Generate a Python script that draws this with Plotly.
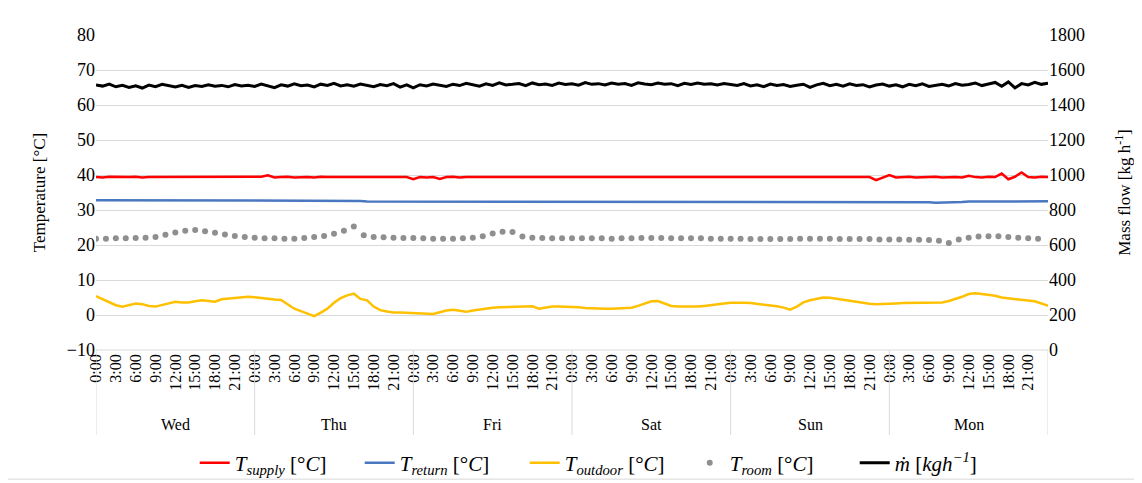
import plotly.graph_objects as go

# ---------------- data ----------------
days = ["Wed", "Thu", "Fri", "Sat", "Sun", "Mon"]
hour_labels = ["0:00", "3:00", "6:00", "9:00", "12:00", "15:00", "18:00", "21:00"]

# hourly samples, hour 0 .. 144
t_supply = [
    39.4, 39.3, 39.5, 39.4, 39.3, 39.4, 39.5, 39.3, 39.4, 39.4, 39.3, 39.5, 39.4, 39.4, 39.3, 39.5, 39.4, 39.3, 39.4, 39.5, 39.4, 39.3, 39.4, 39.4,
    39.4, 39.5, 39.9, 39.3, 39.4, 39.5, 39.3, 39.4, 39.4, 39.3, 39.5, 39.4, 39.4, 39.3, 39.4, 39.5, 39.4, 39.3, 39.4, 39.4, 39.5, 39.3, 39.4, 39.4,
    38.8, 39.4, 39.3, 39.4, 38.9, 39.4, 39.5, 39.3, 39.4, 39.4, 39.3, 39.5, 39.4, 39.4, 39.3, 39.4, 39.5, 39.4, 39.3, 39.4, 39.4, 39.5, 39.3, 39.4,
    39.4, 39.3, 39.5, 39.4, 39.4, 39.3, 39.4, 39.5, 39.4, 39.3, 39.4, 39.4, 39.5, 39.3, 39.4, 39.4, 39.3, 39.5, 39.4, 39.4, 39.3, 39.4, 39.5, 39.4,
    39.3, 39.4, 39.4, 39.5, 39.3, 39.4, 39.4, 39.3, 39.5, 39.4, 39.4, 39.3, 39.4, 39.5, 39.4, 39.3, 39.4, 39.4, 39.5, 39.3, 39.4, 39.4, 38.5, 39.3,
    40.0, 39.3, 39.4, 39.5, 39.3, 39.4, 39.4, 39.5, 39.3, 39.4, 39.4, 39.3, 39.8, 39.4, 39.3, 39.5, 39.4, 40.4, 38.8, 39.5, 40.7, 39.4, 39.3, 39.5, 39.4,
]
t_return = [
    32.8, 32.8, 32.8, 32.8, 32.8, 32.7, 32.8, 32.8, 32.8, 32.8, 32.8, 32.8, 32.8, 32.8, 32.7, 32.8, 32.8, 32.8, 32.8, 32.8, 32.8, 32.8, 32.8, 32.8,
    32.8, 32.8, 32.8, 32.8, 32.8, 32.8, 32.8, 32.7, 32.8, 32.6, 32.6, 32.6, 32.6, 32.6, 32.7, 32.7, 32.6, 32.4, 32.4, 32.4, 32.4, 32.4, 32.4, 32.4,
    32.4, 32.4, 32.4, 32.4, 32.4, 32.4, 32.4, 32.4, 32.4, 32.4, 32.4, 32.4, 32.4, 32.4, 32.4, 32.4, 32.4, 32.3, 32.2, 32.3, 32.4, 32.4, 32.4, 32.4,
    32.4, 32.4, 32.4, 32.4, 32.4, 32.4, 32.4, 32.4, 32.4, 32.4, 32.4, 32.4, 32.4, 32.4, 32.4, 32.4, 32.4, 32.4, 32.4, 32.4, 32.4, 32.4, 32.4, 32.4,
    32.4, 32.4, 32.4, 32.4, 32.4, 32.4, 32.4, 32.4, 32.4, 32.4, 32.4, 32.4, 32.4, 32.4, 32.4, 32.4, 32.4, 32.4, 32.4, 32.4, 32.4, 32.4, 32.4, 32.4,
    32.4, 32.4, 32.4, 32.4, 32.4, 32.3, 32.2, 32.1, 32.1, 32.1, 32.2, 32.3, 32.4, 32.4, 32.5, 32.5, 32.5, 32.5, 32.5, 32.5, 32.5, 32.5, 32.5, 32.5, 32.5,
]
t_outdoor = [
    5.4, 4.6, 3.8, 2.8, 2.4, 2.8, 3.3, 3.1, 2.6, 2.4, 2.8, 3.3, 3.8, 3.6, 3.6, 3.9, 4.2, 4.0, 3.8, 4.5, 4.7, 4.9, 5.1, 5.2,
    5.1, 4.8, 4.5, 4.4, 4.3, 3.0, 1.8, 1.1, 0.3, -0.3, 0.7, 1.8, 3.5, 4.8, 5.6, 6.1, 4.6, 4.2, 2.4, 1.4, 1.0, 0.7, 0.7, 0.6,
    0.5, 0.5, 0.4, 0.3, 0.8, 1.3, 1.5, 1.3, 0.9, 1.3, 1.6, 1.8, 2.1, 2.2, 2.3, 2.3, 2.4, 2.4, 2.5, 1.8, 2.2, 2.4, 2.4, 2.4,
    2.3, 2.2, 2.0, 1.9, 1.7, 1.8, 1.8, 1.9, 2.0, 2.1, 2.6, 3.2, 3.9, 4.0, 3.4, 2.6, 2.4, 2.4, 2.3, 2.4, 2.6, 2.9, 3.1, 3.3,
    3.5, 3.6, 3.5, 3.4, 3.2, 3.0, 2.8, 2.5, 2.1, 1.5, 2.4, 3.6, 4.2, 4.7, 5.0, 4.9, 4.6, 4.4, 3.9, 3.7, 3.4, 3.2, 3.1, 3.1,
    3.2, 3.3, 3.4, 3.4, 3.5, 3.5, 3.5, 3.6, 3.6, 4.0, 4.5, 5.2, 6.0, 6.2, 6.0, 5.8, 5.5, 5.0, 4.8, 4.6, 4.4, 4.1, 3.9, 3.3, 2.6,
]
mass_flow = [
    1515, 1508, 1519, 1504, 1512, 1500, 1510, 1497, 1514, 1505, 1518, 1509, 1503, 1513, 1500, 1511, 1506, 1516, 1507, 1512, 1504, 1517, 1509, 1513,
    1506, 1520, 1511, 1499, 1515, 1508, 1521, 1510, 1514, 1503, 1519, 1512, 1524, 1509, 1516, 1507, 1520, 1513, 1505, 1517, 1510, 1522, 1502, 1515,
    1498, 1516, 1509, 1520, 1512, 1506, 1519, 1511, 1524, 1514, 1508, 1521, 1512, 1527, 1515, 1518, 1523, 1510, 1526, 1516, 1520, 1512, 1525, 1517,
    1521, 1513, 1528, 1518, 1522, 1514, 1526, 1519, 1523, 1512, 1527, 1520, 1516, 1525, 1518, 1522, 1511, 1524, 1517, 1526, 1519, 1521, 1514, 1523,
    1518, 1512, 1522, 1509, 1516, 1505, 1520, 1511, 1517, 1506, 1513, 1519, 1501, 1515, 1524, 1510, 1518, 1507, 1521, 1512, 1516, 1503, 1514, 1520,
    1508, 1515, 1504, 1518, 1510, 1521, 1506, 1514, 1519, 1509, 1523, 1513, 1517, 1526, 1511, 1520, 1529, 1507, 1532, 1498, 1522, 1515, 1530, 1518, 1524,
]
# room temperature every 1.5 h
t_room = [
    21.8, 21.8, 21.9, 21.9, 22.0, 22.1, 22.3, 22.9, 23.6, 24.1, 24.3, 23.9, 23.5, 23.0, 22.6, 22.3,
    22.1, 21.9, 21.9, 21.8, 21.8, 22.0, 22.3, 22.6, 23.2, 24.1, 25.3, 22.8, 22.3, 22.2, 22.1, 22.0,
    22.0, 21.9, 21.8, 21.8, 21.8, 21.9, 22.1, 22.5, 23.3, 23.8, 23.7, 22.4, 22.1, 22.0, 21.9, 21.9,
    21.9, 21.9, 21.9, 21.9, 21.8, 21.9, 21.9, 22.0, 22.0, 22.0, 21.9, 21.9, 21.9, 21.9, 21.8, 21.8,
    21.8, 21.8, 21.7, 21.7, 21.7, 21.7, 21.7, 21.8, 21.8, 21.8, 21.8, 21.7, 21.7, 21.7, 21.7, 21.6,
    21.6, 21.6, 21.5, 21.5, 21.4, 21.2, 20.6, 21.6, 22.1, 22.4, 22.5, 22.5, 22.3, 22.1, 21.9, 21.8,
]

hours = list(range(len(t_supply)))
room_hours = [i * 1.5 for i in range(len(t_room))]
tick_vals = [d * 24 + h * 3 for d in range(len(days)) for h in range(len(hour_labels))]
tick_text = [hour_labels[h] for d in range(len(days)) for h in range(len(hour_labels))]

FONT = "Liberation Serif, Times New Roman, serif"
GRID = "#d9d9d9"

fig = go.Figure()
fig.add_trace(go.Scatter(x=hours, y=t_supply, mode="lines", line=dict(color="#ff0000", width=2.5),
                         name="<i>T<sub>supply</sub></i> [°<i>C</i>]"))
fig.add_trace(go.Scatter(x=hours, y=t_return, mode="lines", line=dict(color="#4a78c0", width=2.5),
                         name="<i>T<sub>return</sub></i> [°<i>C</i>]"))
fig.add_trace(go.Scatter(x=hours, y=t_outdoor, mode="lines", line=dict(color="#ffc000", width=2.5),
                         name="<i>T<sub>outdoor</sub></i> [°<i>C</i>]"))
fig.add_trace(go.Scatter(x=room_hours, y=t_room, mode="markers", marker=dict(color="#8f8f8f", size=6),
                         name="<i>T<sub>room</sub></i> [°<i>C</i>]"))
fig.add_trace(go.Scatter(x=hours, y=mass_flow, mode="lines", line=dict(color="#000000", width=3),
                         name="<i>ṁ</i> [<i>kgh<sup>−1</sup></i>]", yaxis="y2"))

shapes = []
# category box top line
shapes.append(dict(type="line", xref="paper", yref="paper", x0=0, x1=1, y0=0, y1=0,
                   line=dict(color=GRID, width=1)))
for d in range(len(days) + 1):
    shapes.append(dict(type="line", xref="x", yref="paper", x0=d * 24, x1=d * 24, y0=0, y1=-0.27,
                       line=dict(color=GRID, width=1)))
# outer chart border
shapes.append(dict(type="rect", xref="paper", yref="paper", x0=-0.0935, x1=1.0914, y0=-0.41, y1=1.105,
                   line=dict(color=GRID, width=1), fillcolor="rgba(0,0,0,0)"))

annotations = [dict(x=d * 24 + 12, y=-0.235, xref="x", yref="paper", text=day, showarrow=False,
                    font=dict(family=FONT, size=16, color="#000"), yanchor="middle")
               for d, day in enumerate(days)]

# page body adds an 8px offset; compensate in figure size / margins
fig.update_layout(
    width=1134, height=475,
    margin=dict(l=88, r=94, t=27, b=133, autoexpand=False),
    paper_bgcolor="white", plot_bgcolor="white",
    font=dict(family=FONT, color="#000", size=16),
    showlegend=True,
    legend=dict(orientation="h", x=0.537, xanchor="center", xref="paper",
                y=0.042, yanchor="middle", yref="container",
                font=dict(family=FONT, size=21, color="#000"), itemwidth=30,
                entrywidth=120, entrywidthmode="pixels", bgcolor="rgba(0,0,0,0)"),
    xaxis=dict(range=[0, 144], tickmode="array", tickvals=tick_vals, ticktext=tick_text, tickangle=-90,
               showgrid=False, zeroline=False, showline=False, ticks="", automargin=False,
               tickfont=dict(family=FONT, size=16, color="#000")),
    yaxis=dict(range=[-10, 80], dtick=10, tick0=0, showgrid=True, gridcolor=GRID, gridwidth=1,
               zeroline=False, showline=False, ticks="", automargin=False,
               tickfont=dict(family=FONT, size=18, color="#000"),
               title=dict(text="Temperature [°C]", font=dict(family=FONT, size=17, color="#000"), standoff=16)),
    yaxis2=dict(range=[0, 1800], dtick=200, tick0=0, overlaying="y", side="right", showgrid=False,
                zeroline=False, showline=False, ticks="", automargin=False,
                tickfont=dict(family=FONT, size=18, color="#000"),
                title=dict(text="Mass flow [kg h<sup>-1</sup>]", font=dict(family=FONT, size=17, color="#000"),
                           standoff=34)),
    shapes=shapes,
    annotations=annotations,
)

fig.write_html("out.html")
